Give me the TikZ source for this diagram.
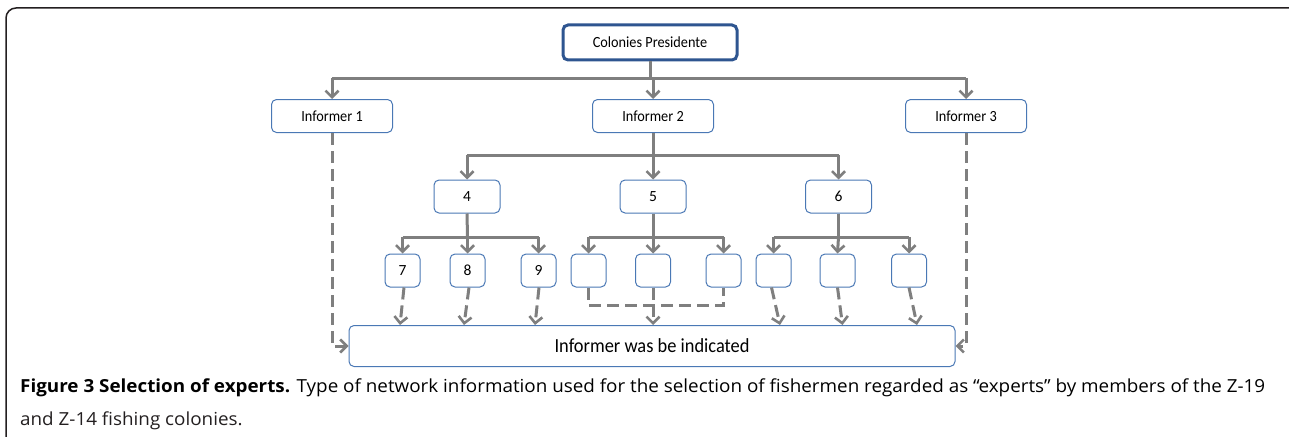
\documentclass[tikz,border=0pt]{standalone}
\usepackage{fontspec}
\usetikzlibrary{arrows.meta,calc}
\newfontfamily\diagfont{Carlito}
\newfontfamily\capfont{Open Sans}
\definecolor{lgray}{HTML}{7F7F7F}
\definecolor{boxblue}{HTML}{4A78B5}
\definecolor{presblue}{HTML}{2E5590}
\definecolor{frameblk}{HTML}{231F20}
\definecolor{captxt}{HTML}{231F20}
\newsavebox\capA
\newdimen\capAwd
\newcommand\dtxt[1]{\scalebox{0.92}[1]{#1}}
\begin{document}
\sbox\capA{\capfont\fontsize{18}{22}\selectfont\textbf{Figure 3 Selection of experts.} Type of network information used for the selection of fishermen regarded as \char"201C experts\char"201D{} by members of the Z-19}%
\capAwd=\wd\capA
\pgfmathsetmacro\capscale{1245/\capAwd}%
\begin{tikzpicture}[x=1pt,y=-1pt,
  box/.style={draw=boxblue, line width=1pt, rounded corners=5pt, fill=white,
    minimum height=33pt, inner sep=0pt, font=\diagfont\fontsize{15.5}{18}\selectfont, text=black},
  presbox/.style={box, draw=presblue, line width=3pt, minimum width=174pt, minimum height=35pt},
  infbox/.style={box, minimum width=121pt},
  midbox/.style={box, minimum width=66pt},
  leafbox/.style={box, minimum width=35pt},
  conn/.style={draw=lgray, line width=3pt},
  arr/.style={conn, -{Straight Barb[length=6.5pt,width=13pt,line width=2.6pt]}},
  darr/.style={arr, dash pattern=on 12pt off 6pt},
  dconn/.style={conn, dash pattern=on 12pt off 6pt},
  captionline/.style={anchor=base west, inner sep=0pt, text=captxt}
]
\useasboundingbox (0,0) rectangle (1289,436);
\clip (0,0) rectangle (1289,436);
% outer frame
\draw[frameblk, line width=1.5pt, rounded corners=10pt] (6,450) -- (6,8) -- (1300,8) -- (1300,450);

% nodes
\node[presbox] (pres) at (650,42.5) {\dtxt{Colonies Presidente}};
\node[infbox] (inf1) at (332,116) {\dtxt{Informer 1}};
\node[infbox] (inf2) at (653,116) {\dtxt{Informer 2}};
\node[infbox] (inf3) at (966,116) {\dtxt{Informer 3}};
\node[midbox] (n4) at (467,196.5) {4};
\node[midbox] (n5) at (653,196.5) {5};
\node[midbox] (n6) at (838.5,196.5) {6};
\node[leafbox] (c7) at (402.5,270.5) {7};
\node[leafbox] (c8) at (467.5,270.5) {8};
\node[leafbox] (c9) at (538.5,270.5) {9};
\node[leafbox] (c5a) at (588.5,270.5) {};
\node[leafbox] (c5b) at (653,270.5) {};
\node[leafbox] (c5c) at (723.5,270.5) {};
\node[leafbox] (c6a) at (773.5,270.5) {};
\node[leafbox] (c6b) at (837.5,270.5) {};
\node[leafbox] (c6c) at (909,270.5) {};
\node[box, minimum width=606pt, minimum height=41pt, font=\diagfont\fontsize{20}{24}\selectfont] (bot) at (652,346) {\dtxt{Informer was be indicated}};

% level 1
\coordinate (b1l) at (332,78);
\coordinate (b1m) at (653,78);
\coordinate (b1r) at (966,78);
\draw[conn] (pres.south) -- (pres.south |- b1l);
\draw[conn] (b1l) -- (b1r);
\draw[arr] (b1l) -- (inf1.north);
\draw[arr] (b1m) -- (inf2.north);
\draw[arr] (b1r) -- (inf3.north);

% level 2
\coordinate (b2l) at (467,155);
\coordinate (b2m) at (653,155);
\coordinate (b2r) at (838.5,155);
\draw[conn] (inf2.south) -- (b2m);
\draw[conn] (b2l) -- (b2r);
\draw[arr] (b2l) -- (n4.north);
\draw[arr] (b2m) -- (n5.north);
\draw[arr] (b2r) -- (n6.north);

% level 3 under 4
\coordinate (b3l) at (402.5,237);
\coordinate (b3m) at (467.5,237);
\coordinate (b3r) at (538.5,237);
\draw[conn] (n4.south) -- (b3m);
\draw[conn] (b3l) -- (b3r);
\draw[arr] (b3l) -- (c7.north);
\draw[arr] (b3m) -- (c8.north);
\draw[arr] (b3r) -- (c9.north);
% under 5
\coordinate (b4l) at (588.5,237);
\coordinate (b4m) at (653,237);
\coordinate (b4r) at (723.5,237);
\draw[conn] (n5.south) -- (b4m);
\draw[conn] (b4l) -- (b4r);
\draw[arr] (b4l) -- (c5a.north);
\draw[arr] (b4m) -- (c5b.north);
\draw[arr] (b4r) -- (c5c.north);
% under 6
\coordinate (b5l) at (773.5,237);
\coordinate (b5m) at (838.5,237);
\coordinate (b5r) at (909,237);
\draw[conn] (n6.south) -- (b5m);
\draw[conn] (b5l) -- (b5r);
\draw[arr] (b5l) -- (c6a.north);
\draw[arr] (b5m) -- (c6b.north);
\draw[arr] (b5r) -- (c6c.north);

% dashed indications
\draw[darr] (inf1.south) |- (bot.west);
\draw[darr] (inf3.south) |- (bot.east);
\draw[darr] ($(c7.south)+(1.5,0)$) -- ($(c7.south |- bot.north)+(-2.5,0)$);
\draw[darr] ($(c8.south)+(1.5,0)$) -- ($(c8.south |- bot.north)+(-3.5,0)$);
\draw[darr] ($(c9.south)+(0.5,0)$) -- ($(c9.south |- bot.north)+(-3.5,0)$);
\coordinate (m5l) at (588.5,305);
\coordinate (m5m) at (653,305);
\coordinate (m5r) at (723.5,305);
\draw[dconn] (c5a.south) -- (m5l) -- (m5r) -- (c5c.south);
\draw[dconn] (c5b.south) -- (m5m);
\draw[darr] (m5m) -- (bot.north -| m5m);
\draw[darr] ($(c6a.south)+(-2,0)$) -- ($(c6a.south |- bot.north)+(6.5,0)$);
\draw[darr] ($(c6b.south)+(0,0)$) -- ($(c6b.south |- bot.north)+(5,0)$);
\draw[darr] ($(c6c.south)+(0,0)$) -- ($(c6c.south |- bot.north)+(8,0)$);

% caption
\node[captionline] (cap1) at (20,392) {\scalebox{\capscale}[1]{\usebox\capA}};
\node[captionline] (cap2) at (20,425) {\scalebox{\capscale}[1]{\capfont\fontsize{18}{22}\selectfont and Z-14 fishing colonies.}};
\end{tikzpicture}
\end{document}
